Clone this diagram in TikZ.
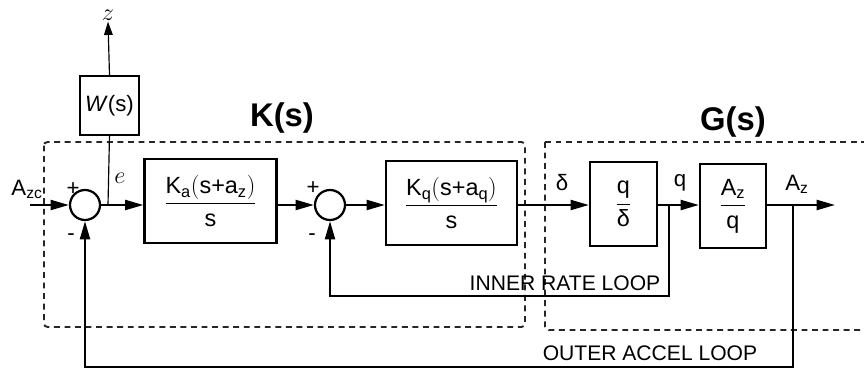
\documentclass[tikz,border=0pt]{standalone}
\usepackage{amsmath}
\usepackage{fontspec}
\setmainfont{Liberation Sans}
\usetikzlibrary{arrows.meta,positioning}

\begin{document}
\begin{tikzpicture}[
  x=0.03cm, y=-0.03cm, >={Triangle[length=5.5mm,width=3mm]},
  blk/.style={draw, line width=1.9pt, minimum width=#1, minimum height=2.52cm, inner sep=0pt, font=\fontsize{20}{24}\selectfont},
  sumnode/.style={draw, circle, line width=1.9pt, minimum size=0.9cm, inner sep=0pt},
  wbox/.style={draw, line width=1pt, minimum size=1.77cm, inner sep=0pt, font=\fontsize{19}{23}\selectfont},
  sig/.style={line width=1.9pt},
  sigarr/.style={sig, ->},
  thinarr/.style={line width=1pt, -{Triangle[length=4mm,width=2.6mm]}},
  frame/.style={draw=black!85, line width=1.6pt, dash pattern=on 5pt off 4pt, rounded corners=3pt},
  lbl/.style={font=\fontsize{19}{23}\selectfont, inner sep=1pt},
  loopl/.style={font=\fontsize{18}{21}\selectfont, inner sep=1pt},
  title/.style={font=\fontsize{28}{32}\selectfont\bfseries}
]
  \useasboundingbox (0,0) rectangle (864,374);

  % Frames of controller and plant
  \draw[frame] (44,142) rectangle (525,327);
  \draw[frame] (545,142) -- (880,142);
  \draw[frame] (545,142) -- (545,330) -- (880,330);
  \node[title] (ktitle) at (282,118) {K(s)};
  \node[title] (gtitle) at (733,122) {G(s)};

  % Blocks and summing junctions
  \node[sumnode] (sum1) at (85,205) {};
  \node[blk=3.96cm] (ka) at (210.5,201) {$\dfrac{\text{K}_{\text{a}}(\text{s+a}_{\text{z}})}{\text{s}}$};
  \node[sumnode] (sum2) at (330,205) {};
  \node[blk=3.93cm] (kq) at (451.5,203) {$\dfrac{\text{K}_{\text{q}}(\text{s+a}_{\text{q}})}{\text{s}}$};
  \node[blk=2.01cm] (qd) at (623.5,204) {$\dfrac{\text{q}}{\text{δ}}$};
  \node[blk=1.98cm] (azq) at (733,206) {$\dfrac{\text{A}_{\text{z}}}{\text{q}}$};
  \node[wbox] (wf) at (109.5,105.5) {\textit{W}(s)};

  % Branch points and free ends
  \coordinate (azc) at (30,205);
  \coordinate (ejn) at (108,205);
  \coordinate (qbr) at (669,205);
  \coordinate (azbr) at (793,205);
  \coordinate (aout) at (835,205);

  % Signal labels
  \node[lbl] (azclbl) at (27,189) {A$_{\text{zc}}$};
  \node[lbl] (p1) at (73,189) {+};
  \node[lbl] (m1) at (71,237) {-};
  \node[font=\fontsize{21}{24}\selectfont] (elbl) at (120,178) {$e$};
  \node[font=\fontsize{21}{24}\selectfont, inner sep=1pt] (zlbl) at (108,15) {$z$};
  \node[lbl] (p2) at (313,188) {+};
  \node[lbl] (m2) at (312,237) {-};
  \node[lbl] (dlbl) at (562,183) {δ};
  \node[lbl] (qlbl) at (680,183) {q};
  \node[lbl] (azlbl) at (797,184) {A$_{\text{z}}$};
  \node[loopl] (inner) at (565,283) {INNER RATE LOOP};
  \node[loopl] (outer) at (650,353) {OUTER ACCEL LOOP};

  % Forward path
  \draw[sigarr] (azc) -- (sum1.west);
  \draw[sigarr] (sum1.east) -- (ka.west |- sum1);
  \draw[sigarr] (ka.east |- sum1) -- (sum2.west);
  \draw[sigarr] (sum2.east) -- (kq.west |- sum2);
  \draw[sigarr] (kq.east |- sum2) -- (qd.west |- sum2);
  \draw[sigarr] (qd.east |- sum2) -- (azq.west |- sum2);
  \draw[sigarr] (azq.east |- sum2) -- (aout);

  % Performance output
  \draw[line width=1pt] (ejn) -- (wf.south);
  \draw[thinarr] (wf.north) -- (zlbl.south);

  % Feedback loops
  \draw[sigarr] (qbr) -- (669,296) -| (sum2.south);
  \draw[sigarr] (azbr) -- (793,367) -| (sum1.south);

\end{tikzpicture}
\end{document}
